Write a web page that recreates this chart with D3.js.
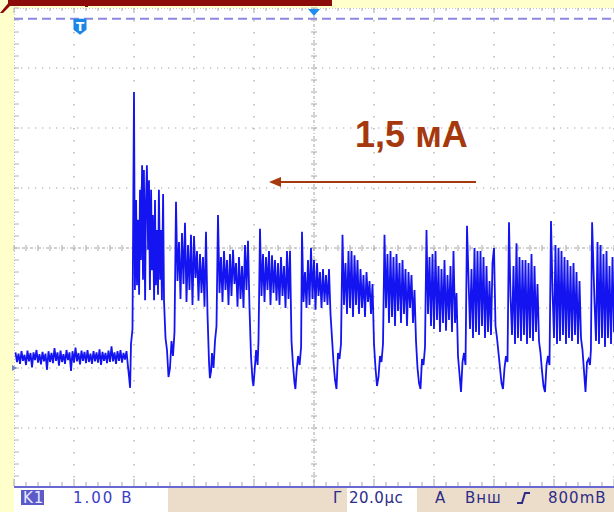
<!DOCTYPE html>
<html>
<head>
<meta charset="utf-8">
<script src="https://cdn.jsdelivr.net/npm/d3@7"></script>
<style>
  html, body { margin: 0; padding: 0; background: #ffffcc; overflow: hidden; }
  svg { display: block; }
</style>
</head>
<body>
<script>
'use strict';

// scope settings: 20 µs/div horizontally, 1 V/div vertically
const timeDivs = [-100, -80, -60, -40, -20, 0, 20, 40, 60, 80, 100];
const voltDivs = [-4, -3, -2, -1, 0, 1, 2, 3, 4];
const triggerTime = -78;     // "T" marker
const triggerLevel = 3.82;   // dashed line near the top
const groundLevel = -2;      // channel marker at the left edge

// annotation
const noteText = '1,5 мА';
const noteAt = [13.7, 1.68];
const arrowFrom = [54, 1.1];
const arrowTo = [-15, 1.1];

// status line
const channelName = 'K1';
const voltsPerDiv = '1.00 В';
const timePerDiv = '20.0µс';
const triggerInfo = ['A', 'Внш', '800mВ'];

// trace, [time µs, volts]
const trace = [
  [-99.5,-1.74],[-99.0,-1.90],[-98.5,-1.76],[-98.0,-1.93],[-97.5,-1.72],[-97.0,-1.88],[-96.5,-1.78],[-96.0,-1.95],[-95.5,-1.71],[-95.0,-1.89],
  [-94.5,-1.75],[-94.0,-1.99],[-93.5,-1.74],[-93.0,-1.87],[-92.5,-1.70],[-92.0,-1.91],[-91.5,-1.77],[-91.0,-1.94],[-90.5,-1.73],[-90.0,-1.89],
  [-89.5,-1.76],[-89.0,-2.03],[-88.5,-1.72],[-88.0,-1.90],[-87.5,-1.75],[-87.0,-1.92],[-86.5,-1.67],[-86.0,-1.88],[-85.5,-1.74],[-85.0,-1.96],
  [-84.5,-1.71],[-84.0,-1.90],[-83.5,-1.77],[-83.0,-1.93],[-82.5,-1.70],[-82.0,-1.87],[-81.5,-1.74],[-81.0,-2.05],[-80.5,-1.72],[-80.0,-1.91],
  [-79.5,-1.66],[-79.0,-1.89],[-78.5,-1.75],[-78.0,-1.94],[-77.5,-1.71],[-77.0,-1.88],[-76.5,-1.73],[-76.0,-1.92],[-75.5,-1.70],[-75.0,-1.90],
  [-74.5,-1.76],[-74.0,-1.93],[-73.5,-1.72],[-73.0,-1.89],[-72.5,-1.74],[-72.0,-1.91],[-71.5,-1.69],[-71.0,-1.95],[-70.5,-1.73],[-70.0,-1.88],
  [-69.5,-1.75],[-69.0,-1.92],[-68.5,-1.71],[-68.0,-1.90],[-67.5,-1.64],[-67.0,-1.89],[-66.5,-1.74],[-66.0,-1.93],[-65.5,-1.72],[-65.0,-1.88],
  [-64.5,-1.70],[-64.0,-1.91],[-63.5,-1.75],[-63.0,-1.86],
  // first edge
  [-62.5,-1.72],[-62.0,-1.98],[-61.7,-2.12],[-61.3,-2.33],[-61.0,-1.60],[-60.5,-1.35],[-60.0,2.60],
  // burst
  [-59.7,-0.70],[-59.3,0.80],[-59.0,-0.62],[-58.7,0.47],[-58.3,-0.78],[-58.0,0.97],[-57.7,-0.20],[-57.3,1.38],[-57.0,-0.53],[-56.7,1.30],
  [-56.3,-0.87],[-56.0,0.80],[-55.7,1.38],[-55.3,-0.03],[-55.0,1.13],[-54.7,-0.70],[-54.3,0.97],[-54.0,-0.37],[-53.7,0.55],[-53.3,-0.87],
  [-53.0,0.80],[-52.7,-0.62],[-52.3,0.30],[-52.0,-0.78],[-51.7,0.97],[-51.3,-0.53],[-51.0,0.30],[-50.7,-0.87],[-50.3,0.90],
  // dip 1
  [-50.0,-0.87],[-49.5,-1.50],[-49.0,-1.70],[-48.5,-2.15],[-48.0,-2.00],[-47.5,-1.55],[-47.0,-1.80],[-46.5,-1.40],[-46.0,0.77],
  [-45.5,-0.55],[-45.0,0.10],[-44.5,-0.85],[-44.0,0.25],[-43.5,-0.60],[-43.0,0.42],[-42.5,-0.90],[-42.0,0.05],[-41.5,-0.70],[-41.0,0.22],
  [-40.5,-0.95],[-40.0,0.20],[-39.5,-0.50],[-39.0,-0.05],[-38.5,-0.88],[-38.0,-0.10],[-37.5,-0.75],[-37.0,-0.15],[-36.5,-0.98],[-36.0,0.27],
  // dip 2
  [-35.5,-1.10],[-35.0,-1.90],[-34.7,-2.17],[-34.3,-2.05],[-34.0,-1.75],[-33.5,-2.00],[-33.0,-1.55],[-32.5,-1.30],[-32.0,0.55],
  [-31.5,-0.75],[-31.0,-0.15],[-30.5,-0.90],[-30.0,-0.05],[-29.5,-0.70],[-29.0,-0.20],[-28.5,-0.95],[-28.0,-0.10],[-27.5,-0.80],[-27.0,-0.03],
  [-26.5,-0.60],[-26.0,-0.25],[-25.5,-0.98],[-25.0,-0.15],[-24.5,-0.85],[-24.0,-0.30],[-23.5,-1.00],[-23.0,0.05],[-22.5,-0.70],[-22.0,0.12],
  // dip 3
  [-21.5,-1.00],[-21.0,-1.80],[-20.5,-2.20],[-20.2,-2.30],[-19.8,-2.05],[-19.3,-1.70],[-18.8,-1.95],[-18.5,-1.55],[-18.0,0.32],
  [-17.5,-0.80],[-17.0,-0.10],[-16.5,-0.90],[-16.0,-0.15],[-15.5,-0.70],[-15.0,-0.05],[-14.5,-0.95],[-14.0,-0.12],[-13.5,-0.75],[-13.0,-0.20],
  [-12.5,-0.88],[-12.0,-0.25],[-11.5,-0.95],[-11.0,-0.15],[-10.5,-0.80],[-10.0,-0.30],[-9.5,-1.00],[-9.0,-0.05],[-8.5,-0.85],[-8.0,-0.05],
  // dip 4
  [-7.5,-1.55],[-7.0,-1.95],[-6.5,-2.25],[-6.2,-2.35],[-5.8,-2.05],[-5.3,-1.80],[-4.8,-1.95],[-4.3,-1.65],[-4.0,0.27],
  [-3.5,-0.90],[-3.0,-0.40],[-2.5,-1.00],[-2.0,-0.20],[-1.5,-0.95],[-1.0,0.00],[-0.5,-0.85],[0.0,-0.20],[0.5,-1.03],[1.0,-0.25],
  [1.5,-0.80],[2.0,-0.40],[2.5,-1.00],[3.0,-0.35],[3.5,-0.90],[4.0,-0.45],[4.5,-0.95],[5.0,-0.35],[5.5,-1.10],
  // dip 5
  [6.0,-1.50],[6.5,-1.90],[7.0,-2.20],[7.5,-2.35],[8.0,-1.75],[8.5,-1.85],[9.0,-1.60],[9.5,0.22],
  [10.0,-0.95],[10.5,-0.25],[11.0,-1.10],[11.5,-0.05],[12.0,-1.00],[12.5,-0.05],[13.0,-1.15],[13.5,-0.12],[14.0,-0.95],[14.5,-0.20],
  [15.0,-1.10],[15.5,-0.35],[16.0,-1.00],[16.5,-0.45],[17.0,-1.15],[17.5,-0.40],[18.0,-0.90],[18.5,-0.55],[19.0,-1.10],[19.5,-0.60],
  // dip 6
  [20.0,-1.60],[20.5,-2.00],[21.0,-2.30],[21.5,-2.15],[22.0,-1.80],[22.5,-1.90],[23.0,-1.60],[23.5,0.22],
  [24.0,-1.00],[24.5,-0.10],[25.0,-1.25],[25.5,-0.05],[26.0,-1.15],[26.5,-0.15],[27.0,-1.30],[27.5,-0.10],[28.0,-1.05],[28.5,-0.25],
  [29.0,-1.25],[29.5,-0.20],[30.0,-1.10],[30.5,-0.35],[31.0,-1.30],[31.5,-0.40],[32.0,-1.00],[32.5,-0.45],[33.0,-1.25],[33.5,-0.70],
  // dip 7
  [34.0,-1.55],[34.5,-2.00],[35.0,-2.25],[35.5,-2.35],[36.0,-1.85],[36.5,-1.95],[37.0,-1.65],[37.5,0.30],
  [38.0,-1.10],[38.5,-0.15],[39.0,-1.30],[39.5,-0.10],[40.0,-1.35],[40.5,-0.05],[41.0,-1.20],[41.5,-0.30],[42.0,-1.40],[42.5,-0.35],
  [43.0,-1.25],[43.5,-0.20],[44.0,-1.38],[44.5,-0.45],[45.0,-1.20],[45.5,-0.30],[46.0,-1.40],[46.5,-0.05],[47.0,-1.25],[47.5,-0.75],
  // dip 8
  [48.0,-1.80],[48.5,-2.10],[49.0,-2.40],[49.5,-1.90],[50.0,-1.75],[50.5,-1.95],[51.0,0.37],
  [51.5,-0.50],[52.0,-1.35],[52.5,-0.35],[53.0,-1.50],[53.5,0.00],[54.0,-1.40],[54.5,-0.05],[55.0,-1.45],[55.5,-0.05],[56.0,-1.30],
  [56.5,-0.15],[57.0,-1.50],[57.5,-0.30],[58.0,-1.40],[58.5,-0.55],[59.0,-1.45],[59.5,-0.25],[60.0,0.00],[60.5,-1.30],[61.0,-1.50],
  // dip 9
  [61.5,-1.75],[62.0,-2.00],[62.5,-2.25],[63.0,-2.35],[63.5,-2.00],[64.0,-1.80],[64.5,-1.90],[65.0,0.43],
  [65.5,-0.80],[66.0,-1.45],[66.5,-0.30],[67.0,-1.60],[67.5,0.08],[68.0,-1.50],[68.5,-0.15],[69.0,-1.55],[69.5,-0.20],[70.0,-1.45],
  [70.5,-0.20],[71.0,-1.60],[71.5,-0.25],[72.0,-1.50],[72.5,-0.10],[73.0,-1.55],[73.5,-0.30],[74.0,-1.40],[74.5,-0.60],[75.0,-1.55],
  // dip 10
  [75.5,-1.75],[76.0,-2.05],[76.5,-2.30],[77.0,-2.40],[77.5,-1.95],[78.0,-1.80],[78.5,-1.95],[79.0,0.45],
  [79.5,-0.70],[80.0,-1.50],[80.5,0.05],[81.0,-1.60],[81.5,0.00],[82.0,-1.55],[82.5,-0.05],[83.0,-1.45],[83.5,-0.15],[84.0,-1.60],
  [84.5,-0.20],[85.0,-1.50],[85.5,-0.30],[86.0,-1.55],[86.5,-0.25],[87.0,-1.45],[87.5,-0.40],[88.0,-1.60],[88.5,-0.55],[89.0,-1.50],
  // dip 11
  [89.5,-1.70],[90.0,-2.05],[90.5,-2.40],[91.0,-1.90],[91.5,-1.85],[92.0,-1.95],[92.3,-1.70],[92.7,0.43],
  [93.5,-0.90],[94.0,-1.55],[94.5,0.10],[95.0,-1.60],[95.5,0.05],[96.0,-1.50],[96.5,-0.10],[97.0,-1.65],[97.5,-0.05],[98.0,-1.50],
  [98.5,-0.30],[99.0,-1.60],[99.5,-0.15],[100.0,-1.40]
];

const W = 614, H = 512;
const svg = d3.select('body').append('svg').attr('width', W).attr('height', H);

// time and voltage scales for the screen grid
const x = d3.scaleLinear().domain([timeDivs[0], timeDivs[timeDivs.length - 1]]).range([14, 614]);
const y = d3.scaleLinear().domain([voltDivs[0], voltDivs[voltDivs.length - 1]]).range([488, 8]);
const minorT = d3.range(timeDivs[0], timeDivs[timeDivs.length - 1] + 0.1, 4);
const minorV = d3.range(voltDivs[0], voltDivs[voltDivs.length - 1] + 0.01, 0.2);

// slide decoration on the top
svg.append('rect').attr('x', 8).attr('y', 0).attr('width', 324).attr('height', 6).attr('fill', '#8c0c0c');
svg.append('path').attr('d', 'M0,13 L3,13 L13,3 L10,1 Z').attr('fill', '#8c0c0c');
svg.append('rect').attr('x', 85).attr('y', 0).attr('width', 3).attr('height', 7).attr('fill', '#8c0c0c');

// screen
svg.append('rect').attr('x', 14).attr('y', 8).attr('width', 600).attr('height', 480).attr('fill', '#ffffff');

const grid = svg.append('g');
// major lines, sparse dots
grid.selectAll('.vline')
  .data(timeDivs.filter(d => d !== 0 && d !== timeDivs[0]))
  .enter().append('line')
  .attr('x1', d => x(d)).attr('x2', d => x(d))
  .attr('y1', 8).attr('y2', 486)
  .attr('stroke', '#b8b8b8').attr('stroke-width', 1.5)
  .attr('stroke-dasharray', '1.5,10.5');
grid.selectAll('.hline')
  .data(voltDivs.filter(d => d !== 0 && d !== voltDivs[0] && d !== voltDivs[voltDivs.length - 1]))
  .enter().append('line')
  .attr('x1', 14).attr('x2', 614)
  .attr('y1', d => y(d)).attr('y2', d => y(d))
  .attr('stroke', '#c2c2c2').attr('stroke-width', 1.3)
  .attr('stroke-dasharray', '1.3,5.7');

// centre cross with minor ticks
grid.append('line').attr('x1', 14).attr('x2', 614).attr('y1', y(0)).attr('y2', y(0))
  .attr('stroke', '#a4a4a4').attr('stroke-width', 1).attr('stroke-dasharray', '3,2,1,2');
grid.append('line').attr('x1', x(0)).attr('x2', x(0)).attr('y1', 8).attr('y2', 486)
  .attr('stroke', '#a4a4a4').attr('stroke-width', 1).attr('stroke-dasharray', '3,2,1,2');
grid.selectAll('.ct').data(minorT).enter().append('line')
  .attr('x1', d => x(d)).attr('x2', d => x(d))
  .attr('y1', y(0) - 3).attr('y2', y(0) + 3)
  .attr('stroke', '#a8a8a8');
grid.selectAll('.cv').data(minorV).enter().append('line')
  .attr('x1', x(0) - 3).attr('x2', x(0) + 3)
  .attr('y1', d => y(d)).attr('y2', d => y(d))
  .attr('stroke', '#a8a8a8');

// border rulers
grid.append('line').attr('x1', 14.5).attr('x2', 14.5).attr('y1', 8).attr('y2', 486)
  .attr('stroke', '#c4c4c4').attr('stroke-dasharray', '1,2');
grid.selectAll('.lt').data(minorV).enter().append('line')
  .attr('x1', 14).attr('x2', 19)
  .attr('y1', d => y(d)).attr('y2', d => y(d))
  .attr('stroke', '#b4b4b4');
grid.append('line').attr('x1', 14).attr('x2', 614).attr('y1', 8.5).attr('y2', 8.5)
  .attr('stroke', '#c4c4c4').attr('stroke-dasharray', '1,2');
grid.selectAll('.tt').data(minorT).enter().append('line')
  .attr('x1', d => x(d)).attr('x2', d => x(d))
  .attr('y1', 8).attr('y2', d => (d % 20 === 0 ? 13 : 11))
  .attr('stroke', '#a8a8a8');
grid.selectAll('.bt').data(minorT).enter().append('line')
  .attr('x1', d => x(d)).attr('x2', d => x(d))
  .attr('y1', d => (d % 20 === 0 ? 479 : 482)).attr('y2', 486)
  .attr('stroke', '#a8a8a8');

// trigger level line
svg.append('line').attr('x1', 14).attr('x2', 614)
  .attr('y1', y(triggerLevel)).attr('y2', y(triggerLevel))
  .attr('stroke', '#8c88e2').attr('stroke-width', 2).attr('stroke-dasharray', '9,5');

// trigger position marker (top, at t = 0)
svg.append('path')
  .attr('d', `M${x(0) - 6},9 L${x(0) + 6},9 L${x(0)},16 Z`)
  .attr('fill', '#1e8ff0');

// "T" marker
const tx = x(triggerTime), ty = y(triggerLevel);
svg.append('path')
  .attr('d', `M${tx - 6.5},${ty} h13 v11 l-6.5,5 l-6.5,-5 Z`)
  .attr('fill', '#1a86e8');
svg.append('text').attr('x', tx).attr('y', ty + 12)
  .attr('text-anchor', 'middle')
  .style('font-family', 'DejaVu Sans, sans-serif').style('font-weight', 'bold').style('font-size', '12px')
  .attr('fill', '#ffffff').text('T');

// ground marker
svg.append('path')
  .attr('d', `M12,${y(groundLevel) - 3} L17,${y(groundLevel)} L12,${y(groundLevel) + 3} Z`)
  .attr('fill', '#7080c0');

// trace
svg.append('clipPath').attr('id', 'screen')
  .append('rect').attr('x', 14).attr('y', 8).attr('width', 600).attr('height', 478);
const line = d3.line().x(d => x(d[0])).y(d => y(d[1]));
svg.append('path')
  .datum(trace)
  .attr('clip-path', 'url(#screen)')
  .attr('d', line)
  .attr('fill', 'none')
  .attr('stroke', '#1414f0')
  .attr('stroke-width', 1.8)
  .attr('stroke-linejoin', 'miter');

// annotation
const noteColor = '#a5380c';
svg.append('text')
  .attr('x', x(noteAt[0])).attr('y', y(noteAt[1]))
  .style('font-family', 'Liberation Sans, Arial, sans-serif')
  .style('font-weight', 'bold').style('font-size', '36px')
  .attr('fill', noteColor).text(noteText);
svg.append('line')
  .attr('x1', x(arrowFrom[0])).attr('y1', y(arrowFrom[1]))
  .attr('x2', x(arrowTo[0]) + 8).attr('y2', y(arrowTo[1]))
  .attr('stroke', noteColor).attr('stroke-width', 2);
svg.append('path')
  .attr('d', `M${x(arrowTo[0])},${y(arrowTo[1])} l12,-5 l0,10 Z`)
  .attr('fill', noteColor);

// status line
const sy = 488;
svg.append('rect').attr('x', 14).attr('y', sy).attr('width', 600).attr('height', H - sy).attr('fill', '#ecdcca');
svg.append('rect').attr('x', 14).attr('y', sy).attr('width', 154).attr('height', H - sy).attr('fill', '#ffffff');
svg.append('rect').attr('x', 347).attr('y', sy).attr('width', 70).attr('height', H - sy).attr('fill', '#ffffff');
svg.append('line').attr('x1', 14).attr('x2', 614).attr('y1', sy - 1).attr('y2', sy - 1)
  .attr('stroke', '#6a68d2').attr('stroke-width', 2);

svg.append('rect').attr('x', 21).attr('y', 490).attr('width', 23).attr('height', 15).attr('fill', '#5a5ac8');

const statusFont = (sel) => sel
  .style('font-family', 'DejaVu Sans, sans-serif')
  .style('font-size', '15px')
  .style('letter-spacing', '1px');

statusFont(svg.append('text').attr('x', 23).attr('y', 503).attr('fill', '#e8e8ff')).text(channelName);
statusFont(svg.append('text').attr('x', 73).attr('y', 503).attr('fill', '#3c3cc8')).style('letter-spacing', '2px').text(voltsPerDiv);
statusFont(svg.append('text').attr('x', 333).attr('y', 503).attr('fill', '#2c2c88')).text('Г');
statusFont(svg.append('text').attr('x', 349).attr('y', 503).attr('fill', '#2c2c88')).style('letter-spacing', '0.5px').text(timePerDiv);
statusFont(svg.append('text').attr('x', 435).attr('y', 503).attr('fill', '#2c2c88')).text(triggerInfo[0]);
statusFont(svg.append('text').attr('x', 465).attr('y', 503).attr('fill', '#2c2c88')).text(triggerInfo[1]);
svg.append('path').attr('d', 'M517,503 L522,503 L525,493 L530,493')
  .attr('fill', 'none').attr('stroke', '#2c2c88').attr('stroke-width', 2);
statusFont(svg.append('text').attr('x', 548).attr('y', 503).attr('fill', '#2c2c88')).text(triggerInfo[2]);
</script>
</body>
</html>
